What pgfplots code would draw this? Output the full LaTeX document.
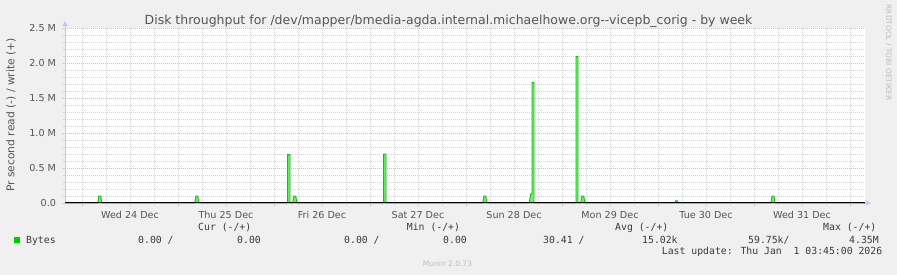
\documentclass[border=0pt]{standalone}
\usepackage{fontspec}
\setmainfont{DejaVu Sans}
\newfontfamily\mono{DejaVu Sans Mono}
\usepackage{pgfplots}
\pgfplotsset{compat=1.18}
\usetikzlibrary{arrows.meta}
\definecolor{bg}{HTML}{F0F0F0}
\definecolor{mgreen}{HTML}{00CC00}
\definecolor{lgreen}{HTML}{80E680}
\definecolor{pinkgrid}{RGB}{232,180,180}
\definecolor{greygrid}{RGB}{212,212,212}
\definecolor{axisblue}{RGB}{190,200,245}
\definecolor{txt}{HTML}{555555}
\definecolor{legtxt}{HTML}{3A3A3A}
\definecolor{faint}{HTML}{BEBEBE}
\begin{document}
\begin{tikzpicture}
\fill[bg] (0,0) rectangle (897pt,275pt);
\useasboundingbox (0,0) rectangle (897pt,275pt);
\begin{axis}[
  at={(65pt,72pt)}, anchor=south west,
  scale only axis, width=800pt, height=175pt,
  xmin=-4.25, xmax=195.75, ymin=0, ymax=2.5,
  axis background/.style={fill=white},
  axis lines=left,
  axis line style={draw=axisblue, line width=0.8pt, -{Triangle[width=5pt,length=5pt]}},
  x axis line style={shorten >=-6pt},
  y axis line style={shorten >=-7pt},
  xtick={12,36,...,180},
  xticklabels={Wed 24 Dec,Thu 25 Dec,Fri 26 Dec,Sat 27 Dec,Sun 28 Dec,Mon 29 Dec,Tue 30 Dec,Wed 31 Dec},
  minor xtick={6,18,...,186},
  extra x ticks={0,24,...,192},
  extra x tick labels={},
  extra x tick style={grid=major, major grid style={pinkgrid, line width=0.65pt, dash pattern=on 1pt off 1pt}, tick style={pinkgrid, line width=0.65pt}},
  ytick={0,0.5,...,2.5},
  yticklabels={0.0\hspace{6.5pt},0.5 M,1.0 M,1.5 M,2.0 M,2.5 M},
  minor y tick num=4,
  grid=both,
  major x grid style={greygrid, line width=0.65pt, dash pattern=on 1pt off 1pt},
  minor x grid style={greygrid, line width=0.65pt, dash pattern=on 1pt off 1pt},
  major y grid style={pinkgrid, line width=0.65pt, dash pattern=on 1pt off 1pt},
  minor y grid style={greygrid, line width=0.65pt, dash pattern=on 1pt off 1pt},
  tick align=outside,
  major tick length=3pt, minor tick length=2pt,
  tick style={greygrid, line width=0.65pt},
  ticklabel style={font=\fontsize{9.6}{11}\selectfont, text=txt},
  xticklabel style={anchor=base, yshift=-13pt},
  yticklabel style={anchor=east, xshift=-2.5pt},
  clip=false,
]
\addplot[draw=mgreen, fill=lgreen, line width=0.9pt] coordinates {
(-4.25,0)
(3.95,0)(4.2,0.1)(4.7,0.1)(4.95,0)
(28.2,0)(28.45,0.1)(28.95,0.1)(29.2,0)
(51.4,0)(51.4,0.69)(52.0,0.69)(52.0,0)
(52.7,0)(52.95,0.1)(53.45,0.1)(53.7,0)
(75.4,0)(75.4,0.70)(76.0,0.70)(76.0,0)
(100.2,0)(100.45,0.1)(100.95,0.1)(101.2,0)
(111.8,0)(112.2,0.13)(112.5,0.13)(112.5,1.72)(113.0,1.72)(113.0,0)
(123.5,0)(123.5,2.09)(124.0,2.09)(124.0,0)
(124.7,0)(124.95,0.1)(125.45,0.1)(125.7,0)
(148.4,0)(148.4,0.03)(148.9,0.03)(148.9,0)
(172.25,0)(172.5,0.1)(173.0,0.1)(173.25,0)
(195.75,0)
};
\addplot[black, line width=1pt] coordinates {(-4.25,0)(195.75,0)};
\end{axis}
% title
\node[anchor=base, text=txt, font=\fontsize{12.5}{14}\selectfont, inner sep=0] at (448.5pt,250.7pt) {Disk throughput for /dev/mapper/bmedia-agda.internal.michaelhowe.org-{}-vicepb\_corig - by week};
% y label
\node[rotate=90, text=txt, font=\fontsize{10.7}{12}\selectfont, inner sep=0] at (11pt,160pt) {Pr second read (-) / write (+)};
% rrdtool
\node[rotate=-90, text=faint, font=\fontsize{7.4}{9}\selectfont, inner sep=0] at (888.5pt,222.5pt) {RRDTOOL / TOBI OETIKER};
% legend
\begin{scope}[every node/.style={anchor=base west, inner sep=0, text=legtxt, font=\mono\fontsize{9.8}{11}\selectfont}]
\node at (198pt,44pt) {Cur (-/+)};
\node at (406.7pt,44pt) {Min (-/+)};
\node at (615pt,44pt) {Avg (-/+)};
\node at (823pt,44pt) {Max (-/+)};
\fill[mgreen] (14pt,31.7pt) rectangle (20pt,37.7pt);
\node at (26pt,31.7pt) {Bytes};
\node at (138pt,31.7pt) {0.00 /};
\node at (237pt,31.7pt) {0.00};
\node at (344pt,31.7pt) {0.00 /};
\node at (443pt,31.7pt) {0.00};
\node at (543pt,31.7pt) {30.41 /};
\node at (642pt,31.7pt) {15.02k};
\node at (748pt,31.7pt) {59.75k/};
\node at (849pt,31.7pt) {4.35M};
\node at (661.7pt,20pt) {Last update: Thu Jan\ \ 1 03:45:00 2026};
\end{scope}
\node[anchor=base, inner sep=0, text=faint, font=\fontsize{7.5}{9}\selectfont] at (447.5pt,8pt) {Munin 2.0.73};
\end{tikzpicture}
\end{document}
